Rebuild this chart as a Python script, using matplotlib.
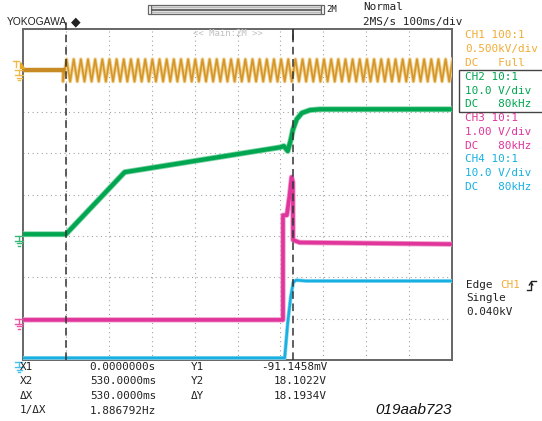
import matplotlib
matplotlib.use('Agg')
import matplotlib.pyplot as plt
import numpy as np
from matplotlib.lines import Line2D
from matplotlib.patches import Rectangle, Polygon
from matplotlib import transforms

W, H = 542, 421

# time axis (ms) and screen divisions
t_start, t_end = -100, 900
ms_per_div = 100
n_div_y = 8

# CH1: mains, flat until the switch, then the AC sine
ch1_level = 7.0
ch1_flat_end = -6.8
ch1_peak = 7.27
ch1_trough = 6.73
ch1_period = 16.67

# CH2, CH3, CH4 traces (ms, divisions)
ch2_t = [-100, 0, 137, 499, 508, 517, 524, 529, 538, 550, 569, 592, 900]
ch2_v = [3.04, 3.04, 4.54, 5.14, 5.17, 5.05, 5.31, 5.56, 5.82, 5.97, 6.04, 6.06, 6.06]

ch3_t = [-100, 506, 506, 515, 521, 526, 529, 529.5, 545, 900]
ch3_v = [0.97, 0.97, 3.50, 3.50, 3.95, 4.42, 4.30, 2.90, 2.84, 2.80]

ch4_t = [-100, 510, 517, 524, 530, 537, 560, 900]
ch4_v = [0.05, 0.05, 0.89, 1.52, 1.88, 1.93, 1.91, 1.91]

# ground markers (divisions)
gnd_levels = [7.0, 3.0, 1.0, -0.05]

# cursors
x1_cursor = 0
x2_cursor = 530

col_ch1 = '#d4962a'
col_ch1_txt = '#f2ac35'
col_ch2 = '#00a650'
col_ch3 = '#e0359a'
col_ch4 = '#18b0e0'

panel_lines = [
    ('CH1 100:1', col_ch1_txt), ('0.500kV/div', col_ch1_txt), ('DC   Full', col_ch1_txt),
    ('CH2 10:1', col_ch2), ('10.0 V/div', col_ch2), ('DC   80kHz', col_ch2),
    ('CH3 10:1', col_ch3), ('1.00 V/div', col_ch3), ('DC   80kHz', col_ch3),
    ('CH4 10:1', col_ch4), ('10.0 V/div', col_ch4), ('DC   80kHz', col_ch4),
]
panel_y = [35, 49, 63, 77, 91, 104, 118, 132, 146, 159, 173, 187]

meas_labels = ['X1', 'X2', 'ΔX', '1/ΔX']
meas_values = ['0.0000000s', '530.0000ms', '530.0000ms', '1.886792Hz']
meas_ylabels = ['Y1', 'Y2', 'ΔY', '']
meas_yvalues = ['-91.1458mV', '18.1022V', '18.1934V', '']
meas_y = [367, 381.5, 396, 410.5]

mono = 'DejaVu Sans Mono'
fs = 7.9

fig = plt.figure(figsize=(W / 100, H / 100), dpi=100)
ax = fig.add_axes([23 / W, (H - 360) / H, 429 / W, 331 / H])
ax.set_xlim(t_start, t_end)
ax.set_ylim(0, n_div_y)
ax.set_xticks([])
ax.set_yticks([])
for s in ax.spines.values():
    s.set_color('#666666')
    s.set_linewidth(1.4)

# dotted graticule
for gx in np.arange(t_start + ms_per_div, t_end, ms_per_div):
    ax.axvline(gx, color='#9a9a9a', lw=0.8, ls=(0, (0.9, 3.2)), zorder=1)
for gy in range(1, n_div_y):
    ax.axhline(gy, color='#9a9a9a', lw=0.8, ls=(0, (0.9, 3.2)), zorder=1)

# cursors
ax.plot([x1_cursor, x1_cursor], [0, 8.22], color='#333333', lw=1.1,
        ls=(0, (5, 3)), clip_on=False, zorder=6)
ax.plot([x2_cursor, x2_cursor], [0, 8], color='#333333', lw=1.1,
        ls=(0, (5, 3)), zorder=6)
ax.plot([x2_cursor, x2_cursor], [7.75, 8], color='#333333', lw=1.3, zorder=6)

# CH1
half = ch1_period / 2
zz_t = np.arange(ch1_flat_end, t_end + half, half)
zz_v = np.where(np.arange(len(zz_t)) % 2 == 0, ch1_trough, ch1_peak)
ch1_t = np.concatenate([[t_start, ch1_flat_end], zz_t])
ch1_v = np.concatenate([[ch1_level, ch1_level], zz_v])
ax.plot(ch1_t, ch1_v, color='#f0d08c', lw=2.6, zorder=3)
ax.plot(ch1_t, ch1_v, color=col_ch1, lw=1.2, zorder=3)
ax.plot([t_start, ch1_flat_end], [ch1_level, ch1_level], color='#c88a22', lw=3.2, zorder=3)

# CH2..CH4
ax.plot(ch2_t, ch2_v, color='#7fd3a6', lw=4.2, zorder=3)
ax.plot(ch2_t, ch2_v, color=col_ch2, lw=3.0, zorder=3)
ax.plot(ch3_t, ch3_v, color='#f09acc', lw=3.8, zorder=4)
ax.plot(ch3_t, ch3_v, color=col_ch3, lw=2.6, zorder=4)
ax.plot(ch4_t, ch4_v, color='#8fd8f0', lw=2.8, zorder=4)
ax.plot(ch4_t, ch4_v, color=col_ch4, lw=1.8, zorder=4)


def fx(x):
    return x / W


def fy(y):
    return 1 - y / H


def ftext(x, y, s, **kw):
    kw.setdefault('family', mono)
    kw.setdefault('fontsize', fs)
    kw.setdefault('color', '#222222')
    fig.text(fx(x), fy(y), s, va='center', ha=kw.pop('ha', 'left'), **kw)


def fline(xs, ys, **kw):
    fig.add_artist(Line2D([fx(v) for v in xs], [fy(v) for v in ys],
                          transform=fig.transFigure, **kw))


ftext(228, 33, '<< Main:2M >>', color='#c0c0c0', fontsize=6.5, ha='center')

# ground markers (x in figure, y from the axes data)
blend = transforms.blended_transform_factory(fig.transFigure, ax.transData)
gnd_colors = ['#f0b848', '#3cb878', '#e856a8', '#48c0e8']
dpx = n_div_y / 331
for lvl, c in zip(gnd_levels, gnd_colors):
    segs = [([15, 22], [0, 0]), ([19, 19], [0, 5]), ([15, 23], [5, 5]),
            ([16.5, 21.5], [7.5, 7.5]), ([18, 20], [10, 10])]
    for xs, ys in segs:
        fig.add_artist(Line2D([fx(v) for v in xs], [lvl - v * dpx for v in ys],
                              transform=blend, color=c, lw=1.0, clip_on=False))
# trigger level marker on CH1
fline([13, 19], [61, 61], color='#f0b848', lw=1.0)
fline([16, 16], [61, 67], color='#f0b848', lw=1.0)
fig.add_artist(Polygon([[fx(19.5), fy(62)], [fx(19.5), fy(68)], [fx(23.5), fy(68)]],
                       closed=True, transform=fig.transFigure, color='#e8a820'))

# top bar
fig.add_artist(Rectangle((fx(151), fy(14)), fx(170), 9 / H, transform=fig.transFigure,
                         facecolor='#e4e4e4', edgecolor='#666666', lw=0.9))
fline([152, 320], [9.5, 9.5], color='#555555', lw=1.2)
fline([152, 320], [7, 7], color='#bbbbbb', lw=0.8)
fline([152, 320], [12, 12], color='#bbbbbb', lw=0.8)
for hx in (148, 321):
    fig.add_artist(Rectangle((fx(hx), fy(14)), 3 / W, 9 / H, transform=fig.transFigure,
                             facecolor='white', edgecolor='#666666', lw=0.9))
ftext(326, 9, '2M', fontsize=6.5)

ftext(7, 22, 'YOKOGAWA', family='Liberation Sans', fontsize=7.4)
ftext(71, 22, '◆', family='DejaVu Sans', fontsize=9)
ftext(363, 7, 'Normal')
ftext(363, 22, '2MS/s 100ms/div')

# channel panel
for (s, c), y in zip(panel_lines, panel_y):
    ftext(465, y, s, color=c)
fig.add_artist(Rectangle((fx(459), fy(112)), 90 / W, 42 / H, transform=fig.transFigure,
                         facecolor='none', edgecolor='#444444', lw=1.0))

# trigger panel
ftext(466, 285, 'Edge')
ftext(500, 285, 'CH1', color=col_ch1_txt)
fline([527, 531, 531, 536], [290, 290, 281, 281], color='#222222', lw=1.0)
fline([529.3, 531, 532.7], [285, 282.5, 285], color='#222222', lw=1.0)
ftext(466, 298, 'Single')
ftext(466, 312, '0.040kV')

# cursor measurements
for lab, val, ylab, yval, y in zip(meas_labels, meas_values, meas_ylabels, meas_yvalues, meas_y):
    ftext(20, y, lab)
    ftext(156, y, val, ha='right')
    if ylab:
        ftext(191, y, ylab)
        ftext(327, y, yval, ha='right')

ftext(452, 410, '019aab723', family='Liberation Sans', style='italic',
      fontsize=11, ha='right', color='#111111')

fig.savefig('out.png', dpi=100)
